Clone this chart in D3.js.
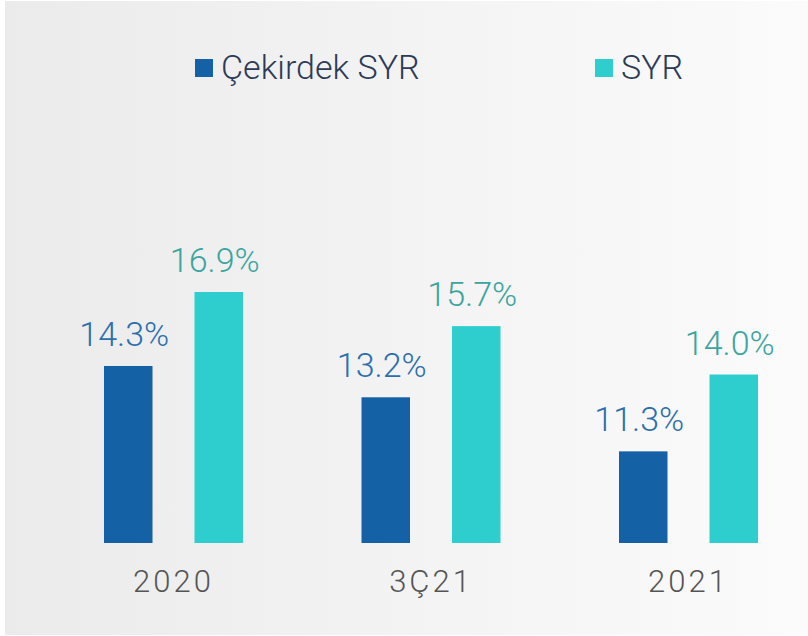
<!DOCTYPE html>
<html>
<head>
<meta charset="utf-8">
<script src="https://cdn.jsdelivr.net/npm/d3@7"></script>
<style>
  html, body { margin: 0; padding: 0; background: #ffffff; }
  svg { display: block; }
</style>
</head>
<body>
<div id="chart"></div>
<script>
// chart data
const categories = ["2020", "3Ç21", "2021"];
const seriesNames = ["Çekirdek SYR", "SYR"];
const coreValues = [14.3, 13.2, 11.3];
const totalValues = [16.9, 15.7, 14.0];

const width = 808;
const height = 636;
const colors = ["#1462a5", "#2ecece"];
const labelColors = ["#2b6fae", "#3aa5a0"];

const svg = d3.select("#chart").append("svg")
    .attr("width", width)
    .attr("height", height);

// background panel with soft left-to-right gradient
const grad = svg.append("defs").append("linearGradient")
    .attr("id", "bg")
    .attr("x1", "0").attr("x2", "1").attr("y1", "0").attr("y2", "0");
grad.append("stop").attr("offset", "0").attr("stop-color", "#ebebeb");
grad.append("stop").attr("offset", "1").attr("stop-color", "#fbfbfb");

svg.append("rect")
    .attr("x", 5).attr("y", 1)
    .attr("width", width - 5).attr("height", 634)
    .attr("fill", "url(#bg)");

const x0 = d3.scaleBand()
    .domain(categories)
    .range([44.75, 817.25])
    .paddingInner(0)
    .paddingOuter(0);

const x1 = d3.scaleBand()
    .domain(seriesNames)
    .range([x0.bandwidth() / 2 - 69.5, x0.bandwidth() / 2 + 69.5])
    .paddingInner(0.464)
    .paddingOuter(0);

const baseY = 543;
const y = d3.scaleLinear()
    .domain([8.08, 17])
    .range([baseY, baseY - 28.46 * (17 - 8.08)]);

const rows = categories.map((c, i) => ({
  cat: c,
  vals: [
    { name: seriesNames[0], value: coreValues[i], idx: 0 },
    { name: seriesNames[1], value: totalValues[i], idx: 1 }
  ]
}));

const groups = svg.selectAll("g.group")
    .data(rows)
    .enter().append("g")
    .attr("class", "group")
    .attr("transform", d => `translate(${x0(d.cat)},0)`);

groups.selectAll("rect")
    .data(d => d.vals)
    .enter().append("rect")
    .attr("x", d => x1(d.name))
    .attr("y", d => y(d.value))
    .attr("width", x1.bandwidth())
    .attr("height", d => baseY - y(d.value))
    .attr("fill", d => colors[d.idx]);

groups.selectAll("text.val")
    .data(d => d.vals)
    .enter().append("text")
    .attr("class", "val")
    .attr("x", d => x1(d.name) + x1.bandwidth() / 2 - 4)
    .attr("y", d => y(d.value) - 20)
    .attr("text-anchor", "middle")
    .attr("font-family", "Roboto, 'Open Sans', sans-serif")
    .attr("font-weight", 300)
    .attr("font-size", 34)
    .attr("fill", d => labelColors[d.idx])
    .text(d => d.value.toFixed(1) + "%");

// category axis labels
svg.append("g")
    .attr("transform", `translate(0,${baseY})`)
    .call(d3.axisBottom(x0).tickSize(0).tickPadding(0))
    .call(g => g.select(".domain").remove())
    .call(g => g.selectAll("text")
        .attr("y", 49)
        .attr("dy", 0)
        .attr("font-family", "Roboto, sans-serif")
        .attr("font-weight", 300)
        .attr("font-size", 31)
        .attr("letter-spacing", "3px")
        .attr("fill", "#555555"));

// legend
const legendX = [195, 595];
const legend = svg.selectAll("g.legend")
    .data(seriesNames)
    .enter().append("g")
    .attr("class", "legend")
    .attr("transform", (d, i) => `translate(${legendX[i]},59)`);

legend.append("rect")
    .attr("width", 18).attr("height", 18)
    .attr("fill", (d, i) => colors[i]);

legend.append("text")
    .attr("x", 26)
    .attr("y", 20)
    .attr("font-family", "Roboto, sans-serif")
    .attr("font-weight", 300)
    .attr("font-size", 34)
    .attr("fill", "#2b3a58")
    .text(d => d);
</script>
</body>
</html>
